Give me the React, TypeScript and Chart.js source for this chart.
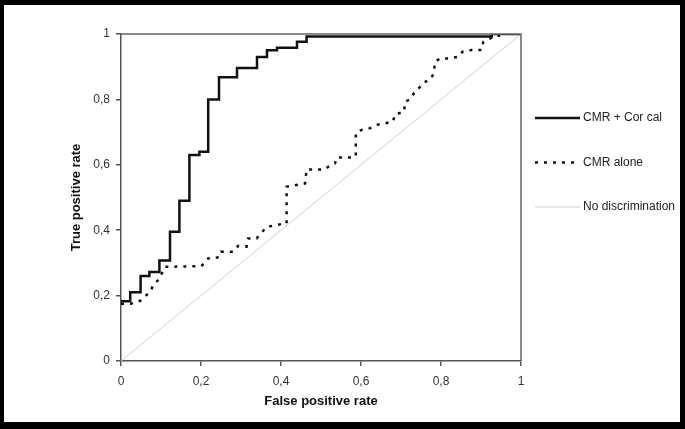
import React, { useEffect, useRef } from 'react';
import { Chart, registerables } from 'chart.js';

Chart.register(...registerables);

// ROC curve: CMR + coronary calcium (step curve vertices)
const cmrCorCalFpr = [0, 0.023, 0.023, 0.049, 0.049, 0.071, 0.071, 0.096, 0.096, 0.1225, 0.1225, 0.146, 0.146, 0.171, 0.171, 0.196, 0.196, 0.218, 0.218, 0.245, 0.245, 0.29, 0.29, 0.34, 0.34, 0.365, 0.365, 0.39, 0.39, 0.44, 0.44, 0.464, 0.464, 0.927, 0.927, 1];
const cmrCorCalTpr = [0.183, 0.183, 0.21, 0.21, 0.26, 0.26, 0.272, 0.272, 0.307, 0.307, 0.395, 0.395, 0.49, 0.49, 0.63, 0.63, 0.64, 0.64, 0.8, 0.8, 0.868, 0.868, 0.896, 0.896, 0.93, 0.93, 0.95, 0.95, 0.958, 0.958, 0.976, 0.976, 0.992, 0.992, 1, 1];

// ROC curve: CMR alone
const cmrAloneFpr = [0, 0.025, 0.05, 0.075, 0.08, 0.095, 0.11, 0.2, 0.21, 0.218, 0.245, 0.25, 0.28, 0.293, 0.314, 0.318, 0.339, 0.364, 0.406, 0.414, 0.414, 0.46, 0.464, 0.51, 0.518, 0.535, 0.539, 0.575, 0.587, 0.587, 0.6, 0.6225, 0.639, 0.66, 0.68, 0.685, 0.7075, 0.71, 0.7225, 0.735, 0.746, 0.756, 0.774, 0.782, 0.785, 0.7975, 0.818, 0.843, 0.854, 0.876, 0.901, 0.906, 0.9225, 0.935, 0.948];
const cmrAloneTpr = [0.175, 0.175, 0.185, 0.215, 0.232, 0.25, 0.288, 0.29, 0.3, 0.314, 0.317, 0.334, 0.334, 0.352, 0.35, 0.375, 0.375, 0.41, 0.42, 0.42, 0.533, 0.543, 0.586, 0.586, 0.594, 0.604, 0.622, 0.622, 0.625, 0.696, 0.706, 0.712, 0.722, 0.727, 0.732, 0.754, 0.762, 0.793, 0.8, 0.824, 0.836, 0.851, 0.862, 0.88, 0.915, 0.925, 0.925, 0.93, 0.946, 0.951, 0.951, 0.976, 0.986, 0.995, 0.995];

// No discrimination diagonal
const diagonalFpr = [0, 1];
const diagonalTpr = [0, 1];

const axisTicks = [0, 0.2, 0.4, 0.6, 0.8, 1];
const tickLabels = ['0', '0,2', '0,4', '0,6', '0,8', '1'];
const seriesLabels = ['CMR + Cor cal', 'CMR alone', 'No discrimination'];
const xTitle = 'False positive rate';
const yTitle = 'True positive rate';

const FONT = '"Liberation Sans", Arial, sans-serif';
const AXIS_COLOR = '#555';

const toPoints = (xs: number[], ys: number[]) => xs.map((x, i) => ({ x, y: ys[i] }));

const tickLabel = (v: number) => {
  const i = axisTicks.findIndex((t) => Math.abs(t - v) < 1e-6);
  return i >= 0 ? tickLabels[i] : '';
};

const framePlugin = {
  id: 'plotFrame',
  afterDatasetsDraw(chart: any) {
    const { ctx, chartArea } = chart;
    ctx.save();
    ctx.strokeStyle = '#666';
    ctx.lineWidth = 1.5;
    ctx.beginPath();
    ctx.moveTo(chartArea.left, chartArea.top);
    ctx.lineTo(chartArea.right, chartArea.top);
    ctx.lineTo(chartArea.right, chartArea.bottom);
    ctx.stroke();
    ctx.restore();
  },
};

const sideLegendPlugin = {
  id: 'sideLegend',
  afterDraw(chart: any) {
    const { ctx, chartArea } = chart;
    const x0 = chartArea.right + 14;
    const len = 45;
    chart.data.datasets.forEach((ds: any, i: number) => {
      const y = chartArea.top + 84 + i * 44.5;
      ctx.save();
      ctx.strokeStyle = ds.borderColor;
      ctx.lineWidth = ds.borderWidth;
      ctx.setLineDash(ds.borderDash || []);
      ctx.beginPath();
      ctx.moveTo(x0, y);
      ctx.lineTo(x0 + len, y);
      ctx.stroke();
      ctx.setLineDash([]);
      ctx.fillStyle = '#222';
      ctx.font = `12px ${FONT}`;
      ctx.textBaseline = 'middle';
      ctx.textAlign = 'left';
      ctx.fillText(ds.label, x0 + len + 3, y);
      ctx.restore();
    });
  },
};

export default function App() {
  const canvasRef = useRef<HTMLCanvasElement | null>(null);

  useEffect(() => {
    if (!canvasRef.current) return;
    const chart = new Chart(canvasRef.current, {
      type: 'line',
      data: {
        datasets: [
          {
            label: seriesLabels[0],
            data: toPoints(cmrCorCalFpr, cmrCorCalTpr),
            borderColor: '#111',
            borderWidth: 2.5,
            pointRadius: 0,
            fill: false,
            tension: 0,
          },
          {
            label: seriesLabels[1],
            data: toPoints(cmrAloneFpr, cmrAloneTpr),
            borderColor: '#111',
            borderWidth: 2.5,
            borderDash: [3, 6],
            pointRadius: 0,
            fill: false,
            tension: 0,
          },
          {
            label: seriesLabels[2],
            data: toPoints(diagonalFpr, diagonalTpr),
            borderColor: '#cfcfcf',
            borderWidth: 1,
            pointRadius: 0,
            fill: false,
            tension: 0,
          },
        ],
      },
      options: {
        responsive: false,
        animation: false,
        devicePixelRatio: 1,
        layout: { padding: { top: 29, right: 159, left: 0, bottom: 0 } },
        plugins: { legend: { display: false }, tooltip: { enabled: false } },
        scales: {
          x: {
            type: 'linear',
            min: 0,
            max: 1,
            afterBuildTicks: (scale: any) => {
              scale.ticks = axisTicks.map((v) => ({ value: v }));
            },
            afterFit: (scale: any) => {
              scale.height = 61;
            },
            ticks: {
              callback: (v: any) => tickLabel(Number(v)),
              color: '#333',
              font: { family: FONT, size: 12 },
              padding: 8,
              maxRotation: 0,
            },
            grid: { drawOnChartArea: false, drawTicks: true, tickLength: 5, color: AXIS_COLOR, lineWidth: 1.5 },
            border: { display: true, color: AXIS_COLOR, width: 1.5 },
            title: {
              display: true,
              text: xTitle,
              color: '#111',
              font: { family: FONT, size: 13, weight: 'bold' },
              padding: { top: 4, bottom: 12.5 },
            },
          },
          y: {
            type: 'linear',
            min: 0,
            max: 1,
            afterBuildTicks: (scale: any) => {
              scale.ticks = axisTicks.map((v) => ({ value: v }));
            },
            afterFit: (scale: any) => {
              scale.width = 117;
            },
            ticks: {
              callback: (v: any) => tickLabel(Number(v)),
              color: '#333',
              font: { family: FONT, size: 12 },
              padding: 6,
            },
            grid: { drawOnChartArea: false, drawTicks: true, tickLength: 5, color: AXIS_COLOR, lineWidth: 1.5 },
            border: { display: true, color: AXIS_COLOR, width: 1.5 },
            title: {
              display: true,
              text: yTitle,
              color: '#111',
              font: { family: FONT, size: 13, weight: 'bold' },
              padding: { top: 65, bottom: 0 },
            },
          },
        },
      } as any,
      plugins: [framePlugin, sideLegendPlugin],
    });
    return () => chart.destroy();
  }, []);

  return (
    <div style={{ position: 'fixed', left: 0, top: 0, width: 685, height: 429, background: '#000' }}>
      <div style={{ position: 'absolute', left: 4, top: 5, width: 676, height: 417, background: '#fff' }}>
        <canvas ref={canvasRef} width={676} height={417} style={{ display: 'block', width: 676, height: 417 }} />
      </div>
    </div>
  );
}
